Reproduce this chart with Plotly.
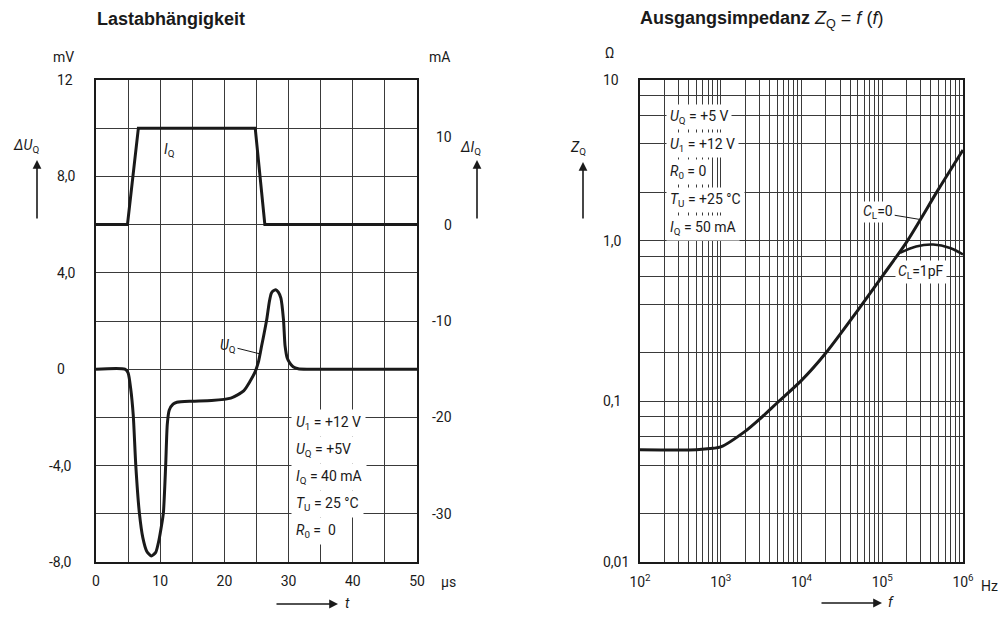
import numpy as np
import plotly.graph_objects as go

# ---------------- data: left chart (Lastabhängigkeit) ----------------
t_iq = [0, 4.9, 6.6, 24.8, 26.3, 50]          # µs
iq_ma = [0, 0, 10, 10, 0, 0]                   # mA

t_uq = [0, 4.5, 5.0, 5.4, 5.8, 6.2, 6.75, 7.3, 7.9, 8.6, 9.3, 9.8, 10.2, 10.5,
        10.85, 11.1, 11.4, 12.0, 12.6, 15, 18, 21, 23, 24, 24.8, 25.3, 25.8,
        26.2, 26.6, 27.0, 27.3, 27.6, 28.0, 28.4, 28.8, 29.2, 29.45, 29.8,
        30.2, 30.7, 31.5, 33, 50]
uq_mv = [0, 0, -0.15, -0.8, -1.9, -4.0, -5.95, -7.0, -7.55, -7.75, -7.6, -7.1,
         -6.5, -5.95, -4.0, -2.3, -1.7, -1.45, -1.37, -1.33, -1.3, -1.2, -0.9,
         -0.5, -0.1, 0.3, 0.97, 1.5, 2.07, 2.8, 3.15, 3.25, 3.3, 3.2, 2.95,
         2.07, 0.97, 0.45, 0.25, 0.1, 0.02, 0, 0]

left_x_ticks = list(range(0, 51, 5))
left_x_text = ["0", "", "10", "", "20", "", "30", "", "40", "", "50"]
left_y_grid = list(range(-8, 13, 2))
left_y_vals = [12, 8, 4, 0, -4, -8]
left_y_text = ["12", "8,0", "4,0", "0", "-4,0", "-8,0"]
right_y_vals = [10, 0, -10, -20, -30]
right_y_text = ["10", "0", "-10", "-20", "-30"]

cond_left = ["<i>U</i><sub>1</sub> = +12 V", "<i>U</i><sub>Q</sub> = +5V",
             "<i>I</i><sub>Q</sub> = 40 mA", "<i>T</i><sub>U</sub> = 25 °C",
             "<i>R</i><sub>0</sub> =  0"]

# ---------------- data: right chart (Ausgangsimpedanz) ----------------
f_hz = [100, 500, 800, 1000, 2000, 3162, 5012, 10000, 20000, 50000, 100000,
        200000, 500000, 1000000]
z_cl0 = [0.05, 0.05, 0.051, 0.052, 0.065, 0.079, 0.098, 0.135, 0.20, 0.37,
         0.60, 0.98, 2.1, 3.67]
f_1pf = [166000, 263000, 427000, 692000, 1000000]
z_1pf = [0.84, 0.92, 0.945, 0.90, 0.82]

dec = [2, 3, 4, 5]
fx_ticks = [k * 10 ** n for n in dec for k in range(1, 10)] + [10 ** 6]
fx_text = [("10<sup>%d</sup>" % n if k == 1 else "") for n in dec for k in range(1, 10)] + ["10<sup>6</sup>"]
zy_grid = [m * 10.0 ** n for n in [-2, -1, 0] for m in [1, 2, 4, 6, 8]] + [10]
zy_vals = [10, 1, 0.1, 0.01]
zy_text = ["10", "1,0", "0,1", "0,01"]

cond_right = ["<i>U</i><sub>Q</sub> = +5 V", "<i>U</i><sub>1</sub> = +12 V",
              "<i>R</i><sub>0</sub> = 0", "<i>T</i><sub>U</sub> = +25 °C",
              "<i>I</i><sub>Q</sub> = 50 mA"]

# ---------------- layout helpers (page body has an 8px margin) ----------------
OX, OY = 8, 8
FW, FH = 991, 604
def PX(x): return (x - OX) / FW
def PY(y): return 1 - (y - OY) / FH

FONT = "Roboto, Liberation Sans Narrow, Arial Narrow, sans-serif"
TITLEFONT = "Liberation Sans, Arial, sans-serif"
GRID = "#3a3a3a"
INK = "#1a1a1a"

fig = go.Figure()
fig.add_trace(go.Scatter(x=t_uq, y=uq_mv, mode="lines", xaxis="x", yaxis="y",
                         line=dict(color=INK, width=3, shape="spline", smoothing=0.6),
                         showlegend=False, hoverinfo="skip"))
fig.add_trace(go.Scatter(x=t_iq, y=iq_ma, mode="lines", xaxis="x", yaxis="y2",
                         line=dict(color=INK, width=3), showlegend=False, hoverinfo="skip"))
fig.add_trace(go.Scatter(x=f_hz, y=z_cl0, mode="lines", xaxis="x2", yaxis="y3",
                         line=dict(color=INK, width=3, shape="spline", smoothing=0.8),
                         showlegend=False, hoverinfo="skip"))
fig.add_trace(go.Scatter(x=f_1pf, y=z_1pf, mode="lines", xaxis="x2", yaxis="y3",
                         line=dict(color=INK, width=2.5, shape="spline", smoothing=1.0),
                         showlegend=False, hoverinfo="skip"))

axfont = dict(family=FONT, size=14, color=INK)
common = dict(showline=True, mirror=True, linecolor=INK, linewidth=1.5,
              showgrid=True, gridcolor=GRID, gridwidth=1, zeroline=False,
              ticks="", tickfont=axfont, automargin=False, fixedrange=True)

Y0, Y1 = PY(562), PY(80)
fig.update_layout(
    width=FW, height=FH, margin=dict(l=0, r=0, t=0, b=0),
    paper_bgcolor="white", plot_bgcolor="white",
    xaxis=dict(domain=[PX(96), PX(417)], range=[0, 50], tickvals=left_x_ticks,
               ticktext=left_x_text, anchor="y", ticklabelstandoff=5, **common),
    yaxis=dict(domain=[Y0, Y1], range=[-8, 12], tickvals=left_y_grid,
               showticklabels=False, anchor="x", **common),
    yaxis2=dict(overlaying="y", side="right", range=[-35, 15], tickvals=right_y_vals,
                showticklabels=False, anchor="x", showgrid=False, showline=False,
                zeroline=False, ticks="", automargin=False, fixedrange=True),
    xaxis2=dict(domain=[PX(640), PX(963)], type="log", range=[2, 6], tickvals=fx_ticks,
                ticktext=fx_text, anchor="y3", ticklabelstandoff=6, **common),
    yaxis3=dict(domain=[Y0, Y1], type="log", range=[-2, 1], tickvals=zy_grid,
                showticklabels=False, anchor="x2", **common),
)

ann = []
def text(x, y, s, size=14, xanchor="center", bg=None, fam=FONT, pad=1):
    d = dict(x=PX(x), y=PY(y), xref="paper", yref="paper", text=s, showarrow=False,
             xanchor=xanchor, yanchor="middle", font=dict(family=fam, size=size, color=INK),
             borderpad=pad)
    if bg:
        d["bgcolor"] = bg
    ann.append(d)

def arrow(x0, y0, x1, y1):
    # tail (x0,y0) -> head (x1,y1), pixels
    ann.append(dict(x=PX(x1), y=PY(y1), xref="paper", yref="paper", ax=x0 - x1, ay=y0 - y1,
                    axref="pixel", ayref="pixel", text="", showarrow=True, arrowhead=2,
                    arrowsize=1.1, arrowwidth=1.6, arrowcolor=INK))

# axis value labels placed on the axes' own scales
for v, s in zip(left_y_vals, left_y_text):
    ann.append(dict(x=PX(47 if s.startswith("-") else 55), y=v, xref="paper", yref="y",
                    text=s, showarrow=False, xanchor="left", yanchor="middle",
                    font=dict(family=FONT, size=14, color=INK)))
for v, s in zip(right_y_vals, right_y_text):
    ann.append(dict(x=PX(454), y=v, xref="paper", yref="y2", text=s, showarrow=False,
                    xanchor="right", yanchor="middle", yshift=(-9 if v == 10 else 0),
                    font=dict(family=FONT, size=14, color=INK)))
for v, s in zip(zy_vals, zy_text):
    ann.append(dict(x=PX(601), y=np.log10(v), xref="paper", yref="y3", text=s,
                    showarrow=False, xanchor="left", yanchor="middle",
                    font=dict(family=FONT, size=14, color=INK)))

# titles
text(95, 19, "<b>Lastabhängigkeit</b>", size=18, xanchor="left", fam=TITLEFONT)
text(638, 19, "<b>Ausgangsimpedanz</b> <i>Z</i><sub>Q</sub> = <i>f</i> (<i>f</i>)", size=18,
     xanchor="left", fam=TITLEFONT)

# left chart units and axis symbols
text(63, 57, "mV")
text(439, 57, "mA")
text(26, 146, "<i>ΔU</i><sub>Q</sub>")
arrow(37, 220, 37, 160)
text(470, 148, "<i>ΔI</i><sub>Q</sub>")
arrow(477, 220, 477, 160)
text(448, 582, "µs")
arrow(275, 604, 338, 604)
text(347, 603, "<i>t</i>")

# curve labels left
ann.append(dict(x=11.5, y=9.1, xref="x", yref="y", text="<i>I</i><sub>Q</sub>",
                showarrow=False, font=dict(family=FONT, size=14, color=INK)))
t_lab = 25.55
ann.append(dict(x=t_lab, y=float(np.interp(t_lab, t_uq, uq_mv)), xref="x", yref="y",
                text="<i>U</i><sub>Q</sub>", showarrow=True, arrowhead=0, arrowwidth=1,
                arrowcolor=INK, ax=-32, ay=-8, font=dict(family=FONT, size=14, color=INK)))

for i, s in enumerate(cond_left):
    text(291, 423 + i * 27, s, xanchor="left", bg="white", pad=4)

# right chart units and axis symbols
text(609, 53, "Ω")
text(578, 148, "<i>Z</i><sub>Q</sub>")
arrow(583, 220, 583, 162)
text(989, 586, "Hz")
arrow(820, 603, 882, 603)
text(891, 602, "<i>f</i>")

for i, s in enumerate(cond_right):
    text(666, 117 + i * 27.7, s, xanchor="left", bg="white", pad=3)

# curve labels right
lf = 5.47
ann.append(dict(x=lf, y=float(np.interp(lf, np.log10(f_hz), np.log10(z_cl0))), xref="x2", yref="y3",
                text="<i>C</i><sub>L</sub>=0", showarrow=True, arrowhead=0, arrowwidth=1,
                arrowcolor=INK, ax=-42, ay=-7, bgcolor="white",
                font=dict(family=FONT, size=14, color=INK)))
text(921, 272, "<i>C</i><sub>L</sub>=1pF", bg="white", pad=2)

fig.update_layout(annotations=ann)
fig.write_html("out.html")
